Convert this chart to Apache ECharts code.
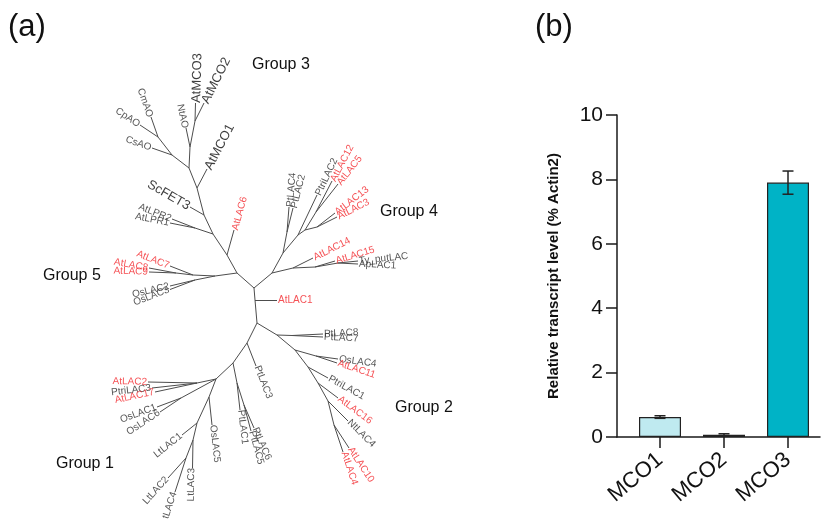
<!DOCTYPE html>
<html><head><meta charset="utf-8">
<script src="https://cdn.jsdelivr.net/npm/echarts@6/dist/echarts.min.js"></script>
<style>html,body{margin:0;padding:0;background:#fff}#c{width:821px;height:519px}</style>
</head><body><div id="c"></div>
<script>
// ---------- (b) bar chart data ----------
const barCategories = ['MCO1', 'MCO2', 'MCO3'];
const barValues = [0.62, 0.07, 7.9];
const barErrors = [0.04, 0.03, 0.36];
const yTickMax = 10;
const yTickStep = 2;

// ---------- (a) tree data (tree coordinate units) ----------
const innerNodes = [
  ['n_M23', 195, 121], ['n_M23N', 190, 147], ['n_CmCp', 158, 137], ['n_AO', 172, 155],
  ['n_G3a', 189, 168], ['n_G3b', 197, 188], ['n_Sc', 204, 215], ['n_LPR', 195, 228],
  ['n_LPRj', 213, 234], ['n_L6', 227, 255], ['n_89', 176, 273], ['n_789', 193, 275],
  ['n_Os23', 195, 280], ['n_G5', 215, 276], ['n_G5j', 237, 273], ['n_R1', 254, 288],
  ['n_L1', 255, 300], ['n_R2', 257, 323],
  ['n_G4', 272, 273], ['n_G4r1', 293, 268], ['n_G4r2', 315, 267], ['n_TyAp', 338, 263],
  ['n_G4u1', 283, 253], ['n_Pt42', 287, 232], ['n_G4u2', 298, 235], ['n_G4u3', 305, 230],
  ['n_125', 316, 212], ['n_133', 317, 227],
  ['n_G2a', 277, 335], ['n_87', 292, 335.5], ['n_G2b', 295, 350], ['n_411', 316, 356],
  ['n_G2c', 308, 367], ['n_G2d', 318, 383], ['n_G2e', 328, 401], ['n_G2f', 334, 425],
  ['n_G1a', 247, 343], ['n_G1b', 233, 363], ['n_Pt156', 237, 383], ['n_Pt65', 244, 405],
  ['n_G1c', 216, 379], ['n_G1d', 197, 383], ['n_Os16', 181, 398], ['n_G1e', 209, 397],
  ['n_Lt1', 197, 423], ['n_Lt2', 193, 440], ['n_Lt24', 186, 458]
];
const innerEdges = [
  ['n_M23', 'n_M23N'], ['n_M23N', 'n_G3a'], ['n_CmCp', 'n_AO'], ['n_AO', 'n_G3a'],
  ['n_G3a', 'n_G3b'], ['n_G3b', 'n_Sc'], ['n_Sc', 'n_LPRj'], ['n_LPR', 'n_LPRj'],
  ['n_LPRj', 'n_L6'], ['n_L6', 'n_G5j'], ['n_89', 'n_789'], ['n_789', 'n_G5'],
  ['n_Os23', 'n_G5'], ['n_G5', 'n_G5j'], ['n_G5j', 'n_R1'], ['n_R1', 'n_L1'], ['n_L1', 'n_R2'],
  ['n_R1', 'n_G4'], ['n_G4', 'n_G4r1'], ['n_G4r1', 'n_G4r2'], ['n_G4r2', 'n_TyAp'],
  ['n_G4', 'n_G4u1'], ['n_G4u1', 'n_Pt42'], ['n_G4u1', 'n_G4u2'], ['n_G4u2', 'n_G4u3'],
  ['n_G4u3', 'n_125'], ['n_G4u3', 'n_133'],
  ['n_R2', 'n_G2a'], ['n_G2a', 'n_87'], ['n_G2a', 'n_G2b'], ['n_G2b', 'n_411'],
  ['n_G2b', 'n_G2c'], ['n_G2c', 'n_G2d'], ['n_G2d', 'n_G2e'], ['n_G2e', 'n_G2f'],
  ['n_R2', 'n_G1a'], ['n_G1a', 'n_G1b'], ['n_G1b', 'n_Pt156'], ['n_Pt156', 'n_Pt65'],
  ['n_G1b', 'n_G1c'], ['n_G1c', 'n_G1d'], ['n_G1c', 'n_Os16'], ['n_G1c', 'n_G1e'],
  ['n_G1e', 'n_Lt1'], ['n_Lt1', 'n_Lt2'], ['n_Lt2', 'n_Lt24']
];
const tipNames = ['AtMCO3','AtMCO2','NtAO','CmAO','CpAO','CsAO','AtMCO1','ScFET3','AtLPR2','AtLPR1','AtLAC6',
  'AtLAC7','AtLAC8','AtLAC9','OsLAC2','OsLAC3','AtLAC1',
  'PtLAC4','PtLAC2','PtriLAC2','AtLAC12','AtLAC5','AtLAC13','AtLAC3','AtLAC14','AtLAC15','Ty_putLAC','ApLAC1',
  'PtLAC8','PtLAC7','OsLAC4','AtLAC11','PtriLAC1','AtLAC16','NtLAC4','AtLAC10','AtLAC4',
  'PtLAC3','PtLAC1','PtLAC6','PtLAC5','AtLAC2','PtriLAC3','AtLAC17','OsLAC1','OsLAC6','OsLAC5',
  'LtLAC1','LtLAC3','LtLAC2','LtLAC4'];
const tipX = [195.5,204,186,151,140,152,207,190,172,170,234,
  170,149,149,170,170,277,
  289,293,317,332,338,335,337,313,335,358,358,
  323,323,338,337,328,338,348,349,343,
  256,240,254,251,148,152,155,157,160,212,
  182,192.5,168,175];
const tipY = [103,103,128,117,125,148,169,207,219,223,230,
  266,268,272,286,289.5,300,
  207,208,195,181,184,213,217,258,261,261,264,
  334,337,359,363,378,398,421,448,452,
  366,410,428,431,382,388,392,407,412,425,
  435,468,478,492];
const tipParent = ['n_M23','n_M23','n_M23N','n_CmCp','n_CmCp','n_AO','n_G3b','n_Sc','n_LPR','n_LPR','n_L6',
  'n_789','n_89','n_89','n_Os23','n_Os23','n_L1',
  'n_Pt42','n_Pt42','n_G4u2','n_125','n_125','n_133','n_133','n_G4r1','n_G4r2','n_TyAp','n_TyAp',
  'n_87','n_87','n_411','n_411','n_G2c','n_G2d','n_G2e','n_G2f','n_G2f',
  'n_G1a','n_Pt156','n_Pt65','n_Pt65','n_G1d','n_G1d','n_G1d','n_Os16','n_Os16','n_G1e',
  'n_Lt1','n_Lt2','n_Lt24','n_Lt24'];
// label class: r = Arabidopsis laccase (red), k = other, b = highlighted
const tipClass = ['b','b','k','k','k','k','b','b','k','k','r',
  'r','r','r','k','k','r',
  'k','k','k','r','r','r','r','r','r','k','k',
  'k','k','k','r','k','r','k','r','r',
  'k','k','k','k','r','k','r','k','k','k',
  'k','k','k','k'];
const groupNames = ['Group 3', 'Group 4', 'Group 5', 'Group 2', 'Group 1'];

// ---------- build ----------
const FONT = '"Liberation Sans", Arial, sans-serif';
const nodeMap = {};
innerNodes.forEach(n => { nodeMap[n[0]] = [n[1], n[2]]; });
tipNames.forEach((n, i) => { nodeMap[n] = [tipX[i], tipY[i]]; });

const edgeData = innerEdges.concat(tipNames.map((n, i) => [tipParent[i], n]))
  .map(e => ({ coords: [nodeMap[e[0]], nodeMap[e[1]]] }));

const classStyle = {
  r: { color: '#f2262b', fontSize: 10 },
  k: { color: '#2a2a2a', fontSize: 10 },
  b: { color: '#0a0a0a', fontSize: 13 }
};
const tipData = tipNames.map((n, i) => {
  const p = nodeMap[tipParent[i]];
  const dx = tipX[i] - p[0], dy = tipY[i] - p[1];
  let a = Math.atan2(-dy, dx) * 180 / Math.PI;
  let pos = 'right';
  if (a > 90) { a -= 180; pos = 'left'; }
  else if (a < -90) { a += 180; pos = 'left'; }
  const cs = classStyle[tipClass[i]];
  return {
    name: n, value: [tipX[i], tipY[i]],
    label: { show: true, formatter: '{b}', position: pos, rotate: a, distance: 1, color: cs.color, fontSize: cs.fontSize, fontFamily: FONT }
  };
});

const groupPos = [[252, 65], [380, 212], [43, 276], [395, 408], [56, 464]];

const chart = echarts.init(document.getElementById('c'), null, { renderer: 'canvas' });
chart.setOption({
  animation: false,
  backgroundColor: '#fff',
  grid: [
    { left: 0, top: 0, width: 821, height: 519 },
    { left: 617, top: 115, width: 203, height: 322 }
  ],
  xAxis: [
    { gridIndex: 0, type: 'value', min: 0, max: 821, show: false },
    {
      gridIndex: 1, type: 'value', min: -0.672, max: 2.5,
      splitLine: { show: false },
      axisLine: { show: true, onZero: false, lineStyle: { color: '#1a1a1a', width: 1.5 } },
      axisTick: { show: true, customValues: [0, 1, 2], length: 11, lineStyle: { color: '#1a1a1a', width: 1.5 } },
      axisLabel: {
        customValues: [0, 1, 2], formatter: v => barCategories[Math.round(v)] || '',
        rotate: 40, fontSize: 22, margin: 20, color: '#111', fontFamily: FONT
      }
    }
  ],
  yAxis: [
    { gridIndex: 0, type: 'value', min: 0, max: 519, inverse: true, show: false },
    {
      gridIndex: 1, type: 'value', min: 0, max: yTickMax, interval: yTickStep,
      splitLine: { show: false },
      axisLine: { show: true, onZero: false, lineStyle: { color: '#1a1a1a', width: 1.5 } },
      axisTick: { show: true, length: 11, lineStyle: { color: '#1a1a1a', width: 1.5 } },
      axisLabel: { fontSize: 21, color: '#111', margin: 14, fontFamily: FONT },
      name: 'Relative transcript level (% Actin2)', nameLocation: 'middle', nameGap: 56,
      nameTextStyle: { fontSize: 15, fontWeight: 'bold', color: '#111', fontFamily: FONT }
    }
  ],
  graphic: [
    { type: 'text', x: 8, y: 12, style: { text: '(a)', font: '31px ' + FONT, fill: '#111' } },
    { type: 'text', x: 535, y: 12, style: { text: '(b)', font: '31px ' + FONT, fill: '#111' } }
  ].concat(groupNames.map((g, i) => ({
    type: 'text', x: groupPos[i][0], y: groupPos[i][1],
    style: { text: g, font: '16px ' + FONT, fill: '#111', textVerticalAlign: 'middle' }
  }))),
  series: [
    {
      type: 'lines', coordinateSystem: 'cartesian2d', xAxisIndex: 0, yAxisIndex: 0,
      polyline: false, silent: true,
      lineStyle: { color: '#4d4d4d', width: 1, opacity: 1, curveness: 0 },
      data: edgeData
    },
    {
      type: 'scatter', xAxisIndex: 0, yAxisIndex: 0, symbolSize: 0, silent: true,
      data: tipData
    },
    {
      type: 'bar', xAxisIndex: 1, yAxisIndex: 1, barWidth: 42,
      data: barValues.map((v, i) => ({
        value: [i, v],
        itemStyle: {
          color: ['#bfeaf0', '#9fb5b8', '#00b3c6'][i],
          borderColor: '#222', borderWidth: 1.2
        }
      }))
    },
    {
      type: 'custom', xAxisIndex: 1, yAxisIndex: 1, silent: true, z: 5,
      data: barValues.map((v, i) => [i, v - barErrors[i], v + barErrors[i]]),
      renderItem: (params, api) => {
        const lo = api.coord([api.value(0), api.value(1)]);
        const hi = api.coord([api.value(0), api.value(2)]);
        const hw = 5.5;
        const st = { stroke: '#222', lineWidth: 1.5 };
        return {
          type: 'group', children: [
            { type: 'line', shape: { x1: lo[0], y1: lo[1], x2: hi[0], y2: hi[1] }, style: st },
            { type: 'line', shape: { x1: lo[0] - hw, y1: lo[1], x2: lo[0] + hw, y2: lo[1] }, style: st },
            { type: 'line', shape: { x1: hi[0] - hw, y1: hi[1], x2: hi[0] + hw, y2: hi[1] }, style: st }
          ]
        };
      }
    }
  ]
});
</script></body></html>
